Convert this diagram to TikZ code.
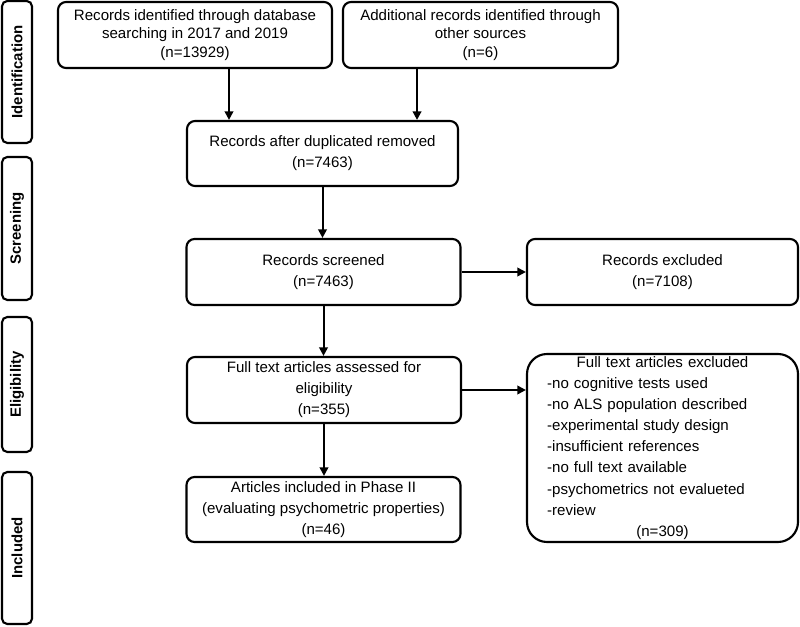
\documentclass[tikz,border=0pt]{standalone}
\usepackage{fontspec}
\setmainfont{Liberation Sans}
\usetikzlibrary{arrows.meta}
\tikzset{
  box/.style={draw, line width=1.6pt, rounded corners=6pt, minimum width=205.5pt,
    minimum height=49.5pt, align=center, inner sep=2pt,
    font=\fontsize{11.3}{15.8}\selectfont},
  topbox/.style={box, font=\fontsize{11.3}{13.9}\selectfont},
  stage/.style={draw, line width=1.6pt, rounded corners=4pt, rotate=90,
    minimum height=22.5pt, font=\fontsize{11.2}{13}\selectfont\bfseries},
  arrow/.style={line width=1.5pt, -{Triangle[length=6.5pt,width=6.5pt]}}
}
\begin{document}
\begin{tikzpicture}[x=0.75pt,y=-0.75pt]
\useasboundingbox (0,0) rectangle (800,627);
% Stages on the left
\node[stage, minimum width=106.5pt] (ident) at (17,72) {Identification};
\node[stage, minimum width=107.25pt] (screening) at (17,228.5) {Screening};
\node[stage, minimum width=101.25pt] (elig) at (17,384.5) {Eligibility};
\node[stage, minimum width=114pt] (included) at (17,548) {Included};
% Identification
\node[topbox] (db) at (195,35) {Records identified through database\\searching in 2017 and 2019\\(n=13929)};
\node[topbox, minimum width=206.25pt] (other) at (480.5,35) {Additional records identified through\\other sources\\(n=6)};
\node[box, minimum width=203.25pt, minimum height=48.75pt] (dup) at (322.5,153.5) {Records after duplicated removed\\(n=7463)};
% Screening
\node[box] (screen) at (323.5,272) {Records screened\\(n=7463)};
\node[box, minimum width=203.25pt] (excl) at (662.5,272) {Records excluded\\(n=7108)};
% Eligibility
\node[box] (full) at (324,390) {Full text articles assessed for\\eligibility\\(n=355)};
\node[box, minimum width=203.25pt, minimum height=141pt, rounded corners=15pt,
  text width=173pt, inner xsep=15pt, inner ysep=1pt, align=left] (fullexcl) at (662.5,448)
  {{\centering Full text articles excluded\par}
   -no cognitive tests used\\
   -no ALS population described\\
   -experimental study design\\
   -insufficient references\\
   -no full text available\\
   -psychometrics not evalueted\\
   -review\par
   {\centering (n=309)\par}};
% Included
\node[box, minimum height=48.75pt] (incl) at (323.5,509.5) {Articles included in Phase II\\(evaluating psychometric properties)\\(n=46)};
% Arrows
\draw[arrow] ([xshift=25.5pt]db.south) -- ([xshift=25.5pt]db.south |- dup.north);
\draw[arrow] ([xshift=-47.6pt]other.south) -- ([xshift=-47.6pt]other.south |- dup.north);
\draw[arrow] (dup.south) -- (dup.south |- screen.north);
\draw[arrow] (screen.east) -- (screen.east -| excl.west);
\draw[arrow] (screen.south) -- (screen.south |- full.north);
\draw[arrow] (full.east) -- (full.east -| fullexcl.west);
\draw[arrow] (full.south) -- (full.south |- incl.north);
\end{tikzpicture}
\end{document}
